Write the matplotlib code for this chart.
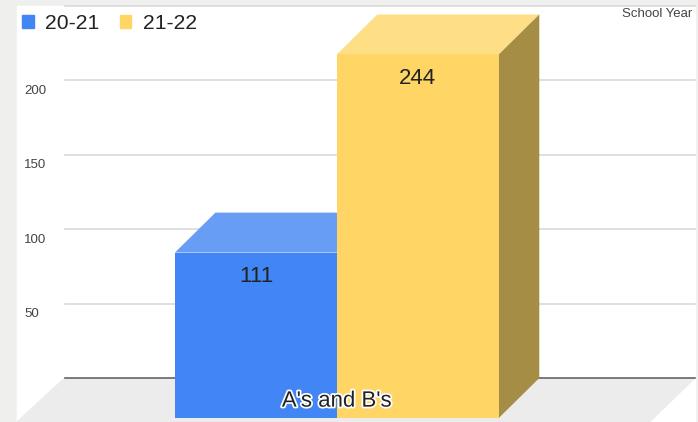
import matplotlib.pyplot as plt
import matplotlib.patheffects as pe
from matplotlib.patches import Patch

plt.rcParams['font.family'] = ['Liberation Sans', 'DejaVu Sans']

series_names = ['20-21', '21-22']
series_values = [111, 244]
category = "A's and B's"
y_ticks = [50, 100, 150, 200]
y_top = 250
legend_title = 'School Year'

front_colors = ['#4285f4', '#ffd666']
top_colors = ['#689df6', '#ffdf85']
side_colors = ['#315fb5', '#a68d45']

# depth of the fake 3d box, in data units
depth_x = 0.25
depth_y = 26.8

fig = plt.figure(figsize=(6.98, 4.22), dpi=100, facecolor='#efefed')
ax = fig.add_axes([0, 0, 1, 1])
ax.set_xlim(-2.08, 2.23)
ax.set_ylim(-29.5, 253.7)
ax.axis('off')

# white panel behind everything
ax.fill([-1.975, 2.21, 2.21, -1.975], [-29.5, -29.5, y_top, y_top], color='white', zorder=0)

# floor
ax.fill([-1.68, 2.21, 1.93, -1.975], [0, 0, -29.5, -29.5], color='#ececec', zorder=1)

# grid lines on the back wall
for v in y_ticks + [y_top]:
    ax.plot([-1.68, 2.21], [v, v], color='#d9d9d9', linewidth=1.2, zorder=2)
    if v != y_top:
        ax.annotate(str(v), (-1.925, v), xytext=(-1, -10.5), textcoords='offset pixels',
                    ha='left', va='center', fontsize=9.5, color='#444444', zorder=6)
ax.plot([-1.68, 2.21], [0, 0], color='#666666', linewidth=1.2, zorder=2)

# bars, front face sits depth_y below the back wall
for i, value in enumerate(series_values):
    left = i - 1
    right = i
    base = -depth_y
    top = value - depth_y
    ax.fill([left, right, right + depth_x, left + depth_x],
            [top, top, value, value], color=top_colors[i], zorder=3 + i, linewidth=0)
    ax.fill([right, right + depth_x, right + depth_x, right],
            [base, 0, value, top], color=side_colors[i], zorder=3 + i, linewidth=0)
    ax.fill([left, right, right, left],
            [base, base, top, top], color=front_colors[i], zorder=3 + i, linewidth=0)
    ax.annotate(str(value), (left + 0.5, top), xytext=(0, -24), textcoords='offset pixels',
                ha='center', va='center', fontsize=16, color='#222222', zorder=6)

txt = ax.text(0, -15.5, category, ha='center', va='center', fontsize=16, color='#222222', zorder=7)
txt.set_path_effects([pe.withStroke(linewidth=2.5, foreground='white')])

ax.text(0.992, 0.966, legend_title, transform=ax.transAxes, ha='right', va='center',
        fontsize=9.5, color='#444444', zorder=7)

handles = [Patch(color=front_colors[i], label=series_names[i]) for i in range(2)]
leg = ax.legend(handles=handles, loc='upper left', bbox_to_anchor=(0.015, 0.995), ncol=2, frameon=False,
                fontsize=15.2, handlelength=0.55, handleheight=0.55, handletextpad=0.55,
                columnspacing=0.95, borderaxespad=0, borderpad=0.55, labelcolor='#222222')
leg.set_zorder(8)

fig.savefig('out.png', dpi=100)
